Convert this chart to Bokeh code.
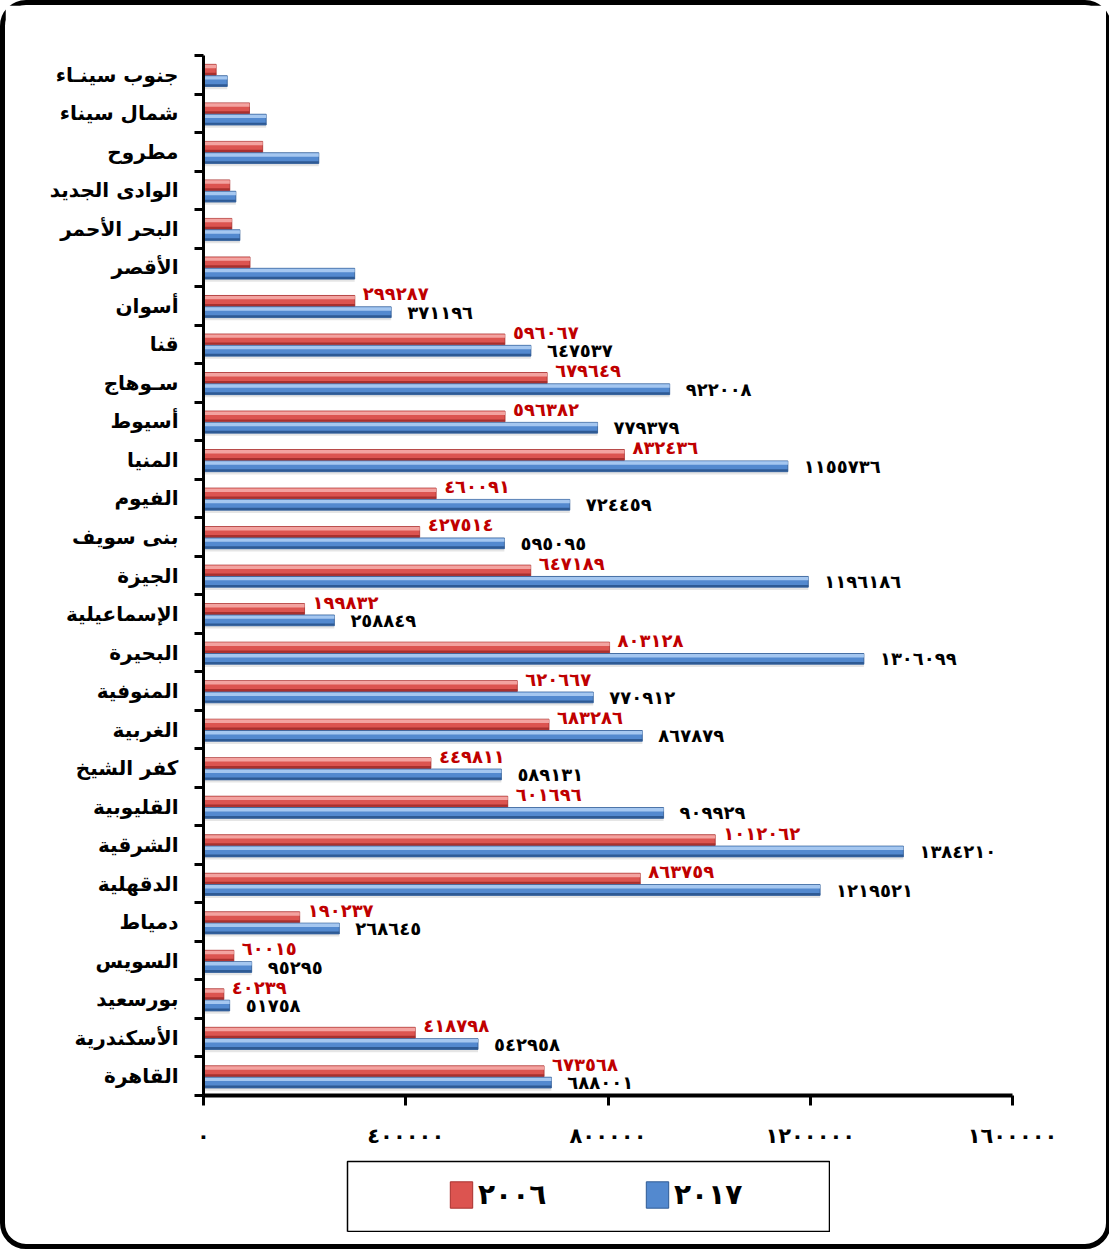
from bokeh.plotting import figure
from bokeh.models import (ColumnDataSource, Range1d, FixedTicker, CustomJSTickFormatter,
                          Legend, LegendItem, Spacer)
from bokeh.layouts import column, row
from bokeh.transform import dodge
from bokeh.core.properties import value
from bokeh.embed import file_html
from bokeh.resources import INLINE

# ---------------- data (bottom -> top) ----------------
governorates = ["القاهرة", "الأسكندرية", "بورسعيد", "السويس", "دمياط", "الدقهلية",
                "الشرقية", "القليوبية", "كفر الشيخ", "الغربية", "المنوفية", "البحيرة",
                "الإسماعيلية", "الجيزة", "بنى سويف", "الفيوم", "المنيا", "أسيوط",
                "سـوهاج", "قنا", "أسوان", "الأقصر", "البحر الأحمر", "الوادى الجديد",
                "مطروح", "شمال سيناء", "جنوب سينـاء"]
v2006 = [673568, 418798, 40239, 60015, 190237, 863759, 1012062, 601696, 449811,
         683286, 620667, 803128, 199832, 647189, 427514, 460091, 832436, 596382,
         679649, 596067, 299287, 92000, 56000, 52000, 117000, 91000, 25000]
v2017 = [688001, 542958, 51758, 95295, 268645, 1219521, 1384210, 909929, 589131,
         867879, 770912, 1306099, 258849, 1196186, 595095, 724459, 1155736, 779379,
         922008, 647537, 371196, 299000, 72000, 64000, 228000, 124000, 47000]
n_labeled = 21  # the first 21 governorates carry value labels
x_ticks = [0, 400000, 800000, 1200000, 1600000]
series_names = ["٢٠٠٦", "٢٠١٧"]

AR_DIGITS = str.maketrans("0123456789", "٠١٢٣٤٥٦٧٨٩")


def ar(n):
    return str(n).translate(AR_DIGITS)


FONT = value("DejaVu Sans")
RED_LIGHT, RED_MID, RED_DARK = "#f3a3a0", "#dc5450", "#a8302e"
BLUE_LIGHT, BLUE_MID, BLUE_DARK = "#a5c7f0", "#5389cf", "#2e5a94"

n = len(governorates)
ypos = [i + 0.5 for i in range(n)]
src = ColumnDataSource(dict(y=ypos, v06=v2006, v17=v2017))
lab = ColumnDataSource(dict(y=ypos[:n_labeled], v06=v2006[:n_labeled], v17=v2017[:n_labeled],
                            t06=[ar(v) for v in v2006[:n_labeled]],
                            t17=[ar(v) for v in v2017[:n_labeled]]))

p = figure(width=1101, height=1145, x_range=Range1d(0, 1600000), y_range=Range1d(0, n),
           output_backend="svg", toolbar_location=None,
           min_border_left=198, min_border_top=50, min_border_right=94, min_border_bottom=55)

H = 0.28
R_OFF = 0.13
B_OFF = -0.165


def bar_set(col, off, light, mid, dark):
    p.hbar(y=dodge("y", off - 0.07, range=p.y_range), left=0, right=col, height=H,
           source=src, fill_color="black", fill_alpha=0.10, line_color=None)
    main = p.hbar(y=dodge("y", off, range=p.y_range), left=0, right=col, height=H, source=src,
                  fill_color=mid, line_color=dark, line_width=0.8)
    p.hbar(y=dodge("y", off + H * 0.30, range=p.y_range), left=0, right=col, height=H * 0.32,
           source=src, fill_color=light, line_color=None)
    p.hbar(y=dodge("y", off - H * 0.38, range=p.y_range), left=0, right=col, height=H * 0.2,
           source=src, fill_color=dark, line_color=None)
    return main


bar_set("v06", R_OFF, RED_LIGHT, RED_MID, RED_DARK)
bar_set("v17", B_OFF, BLUE_LIGHT, BLUE_MID, BLUE_DARK)

p.text(x="v06", y=dodge("y", R_OFF, range=p.y_range), text="t06", source=lab,
       x_offset=8, y_offset=-7, text_align="left", text_baseline="middle",
       text_color="#c00000", text_font=FONT, text_font_style="bold", text_font_size="18px")
p.text(x="v17", y=dodge("y", B_OFF, range=p.y_range), text="t17", source=lab,
       x_offset=16, y_offset=0, text_align="left", text_baseline="middle",
       text_color="black", text_font=FONT, text_font_style="bold", text_font_size="18px")

# axes
p.grid.visible = False
p.outline_line_color = None

xa = p.xaxis[0]
xa.ticker = FixedTicker(ticks=x_ticks)
xa.formatter = CustomJSTickFormatter(
    code="const d='٠١٢٣٤٥٦٧٨٩'; return Math.round(tick).toString().replace(/[0-9]/g, c => d[+c]);")
xa.axis_line_width = 4
xa.axis_line_color = "black"
xa.major_tick_out = 10
xa.major_tick_in = 0
xa.major_tick_line_width = 3
xa.minor_tick_line_color = None
xa.major_label_text_font = "DejaVu Sans"
xa.major_label_text_font_style = "bold"
xa.major_label_text_font_size = "21px"
xa.major_label_text_color = "black"
xa.major_label_standoff = 18

ya = p.yaxis[0]
ya.ticker = FixedTicker(ticks=ypos, minor_ticks=list(range(n + 1)))
ya.formatter = CustomJSTickFormatter(args=dict(names=governorates),
                                     code="const i = Math.floor(tick); return names[i] || '';")
ya.axis_line_width = 3
ya.axis_line_color = "black"
ya.major_tick_line_color = None
ya.major_tick_out = 0
ya.major_tick_in = 0
ya.minor_tick_out = 9
ya.minor_tick_in = 0
ya.minor_tick_line_width = 3
ya.minor_tick_line_color = "black"
ya.major_label_text_font = "DejaVu Sans"
ya.major_label_text_font_style = "bold"
ya.major_label_text_font_size = "20px"
ya.major_label_text_color = "black"
ya.major_label_standoff = 16

# legend box as its own small figure (proxy renderers sit outside its visible range)
lf = figure(width=484, height=72, x_range=Range1d(0, 1), y_range=Range1d(0, 1),
            output_backend="svg", toolbar_location=None, x_axis_type=None, y_axis_type=None,
            min_border=1)
lf.outline_line_color = "black"
lf.outline_line_width = 1.5
lf.grid.visible = False
lr = lf.hbar(y=[-5], left=[-5], right=[-4], height=0.5,
             fill_color=RED_MID, line_color=RED_DARK, line_width=1)
lb = lf.hbar(y=[-5], left=[-5], right=[-4], height=0.5,
             fill_color=BLUE_MID, line_color=BLUE_DARK, line_width=1)
legend = Legend(items=[LegendItem(label=series_names[0], renderers=[lr]),
                       LegendItem(label=series_names[1], renderers=[lb])],
                orientation="horizontal", location=(100, 20), border_line_color=None,
                background_fill_alpha=0, padding=0, margin=0, spacing=15,
                glyph_width=28, glyph_height=33, label_standoff=3, label_width=150,
                label_text_font="DejaVu Sans", label_text_font_style="bold",
                label_text_font_size="28px", label_text_baseline="middle",
                label_text_color="black")
lf.add_layout(legend)

root = column(
    p,
    Spacer(width=10, height=10),
    row(Spacer(width=341, height=72), lf),
    Spacer(width=10, height=12),
    styles={"border": "5px solid black", "border-radius": "26px"},
)

open("out.html", "w").write(file_html(root, INLINE))
